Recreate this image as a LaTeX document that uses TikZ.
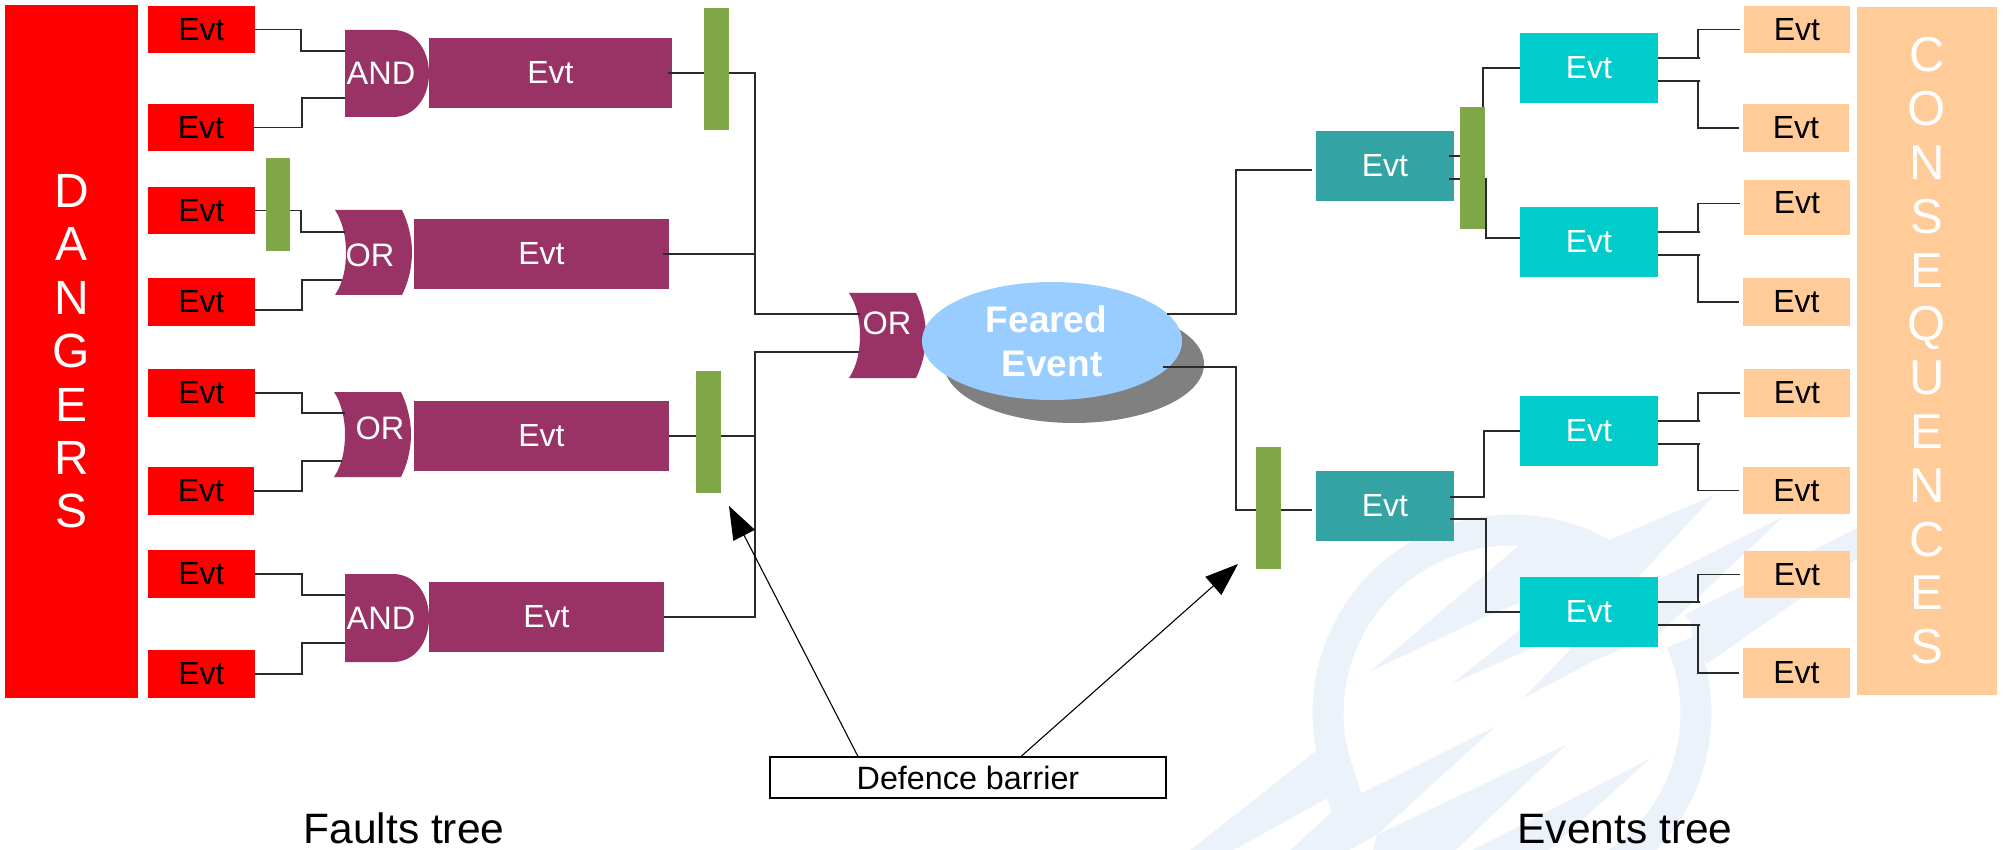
\documentclass[tikz,border=0pt]{standalone}
\usepackage{fontspec}
\setmainfont{Liberation Sans}
\usetikzlibrary{arrows.meta,calc,shapes.geometric}
\definecolor{cRed}{HTML}{FF0000}
\definecolor{cPurple}{HTML}{993366}
\definecolor{cGreen}{HTML}{7FA647}
\definecolor{cTeal}{HTML}{33A3A3}
\definecolor{cCyan}{HTML}{00CCCC}
\definecolor{cOrange}{HTML}{FFCC99}
\definecolor{cSky}{HTML}{99CCFF}
\definecolor{cShadow}{HTML}{808080}
\definecolor{cMark}{HTML}{EBF2FA}
\definecolor{cLine}{HTML}{2A2A2A}
\newcommand{\bx}[7]{%
  \pgfmathsetmacro\bcx{(#3+#5)/2}\pgfmathsetmacro\bcy{(#4+#6)/2}%
  \pgfmathsetmacro\bbw{#5-#3}\pgfmathsetmacro\bbh{#6-#4}%
  \node[#1,minimum width=\bbw pt,minimum height=\bbh pt] (#2) at (\bcx,\bcy) {#7};}
\newcommand{\orshape}[2]{\fill[cPurple,shift={(#1,#2)}] (0,0) -- (67,0) .. controls (73,12) and (77,28) .. (77,42) .. controls (77,58) and (73,73) .. (67,85) -- (0,85) .. controls (8,73) and (11,58) .. (11,42) .. controls (11,28) and (8,12) .. (0,0) -- cycle;}
\newcommand{\andshape}[3]{\fill[cPurple,shift={(#1,#2)}] (0,0) -- (48,0) .. controls (70,0) and (84,20) .. (84,#3/2) .. controls (84,#3-20) and (70,#3) .. (48,#3) -- (0,#3) -- cycle;}
\newcommand{\fork}[3]{%
  \draw[conn] ($(#1.east)+(0,-10)$) -- ++(42,0) -- ++(-2,0) |- #2;
  \draw[conn] ($(#1.east)+(0,13)$) -- ++(42,0) -- ++(-2,0) |- #3;}
\tikzset{
  boxbase/.style={inner sep=0pt,outer sep=0pt,font=\fontsize{32}{36}\selectfont},
  redbox/.style={boxbase,fill=cRed,text=black},
  purplebox/.style={boxbase,fill=cPurple,text=white},
  tealbox/.style={boxbase,fill=cTeal,text=white},
  cyanbox/.style={boxbase,fill=cCyan,text=white},
  orangebox/.style={boxbase,fill=cOrange,text=black},
  barrier/.style={inner sep=0pt,outer sep=0pt,fill=cGreen},
  gatetext/.style={inner sep=0pt,text=white,font=\fontsize{32.5}{36}\selectfont},
  bigcol/.style={inner sep=0pt,outer sep=0pt,text=white,align=center},
  conn/.style={draw=cLine,line width=1.1pt},
  pointer/.style={draw=black,line width=1.1pt,-{Triangle[length=33pt,width=24pt]}},
  caption/.style={inner sep=0pt,anchor=base,text=black,font=\fontsize{42.5}{48}\selectfont},
}
\begin{document}
\begin{tikzpicture}[x=1pt,y=-1pt]
\useasboundingbox (0,0) rectangle (2003,850);
\fill[white] (0,0) rectangle (2003,850);
% pale watermark
\begin{scope}
\clip (0,0) rectangle (2003,850);
\draw[cMark,line width=31pt,line cap=butt] plot[domain=61:192,samples=50] ({1512+184*cos(\x)},{713-183*sin(\x)});
\draw[cMark,line width=31pt,line cap=butt] plot[domain=-75:23,samples=40] ({1512+184*cos(\x)},{713-183*sin(\x)});
\begin{scope}[shift={(1320,490)},x=0.3444pt,y=-0.3333pt]
\fill[cMark] (145,545) -- (580,165) -- (840,150) -- (750,260) -- (600,330) -- (470,385) -- cycle;
\fill[cMark] (385,580) -- (580,420) -- (750,260) -- (840,150) -- (1145,15) -- (925,260) -- (760,400) -- (581,490) -- cycle;
\fill[cMark] (590,625) -- (730,475) -- (925,260) -- (980,270) -- (1345,80) -- (1110,310) -- (985,430) -- (800,510) -- cycle;
\fill[cMark] (1060,375) -- (1568,110) -- (1568,200) -- (1125,520) -- (1090,480) -- (1075,395) -- cycle;
\end{scope}
\begin{scope}[shift={(1170,690)},x=0.3444pt,y=-0.3333pt]
\fill[cMark] (415,190) -- (500,130) -- (555,310) -- (455,325) -- (185,480) -- (60,480) -- cycle;
\fill[cMark] (555,310) -- (945,110) -- (600,435) -- (520,480) -- (350,480) -- (470,365) -- (455,325) -- cycle;
\fill[cMark] (590,480) -- (600,435) -- (1150,165) -- (830,480) -- cycle;
\fill[cMark] (880,480) -- (1395,205) -- (1100,480) -- cycle;
\end{scope}
\end{scope}
% big columns
\bx{bigcol,fill=cRed,font=\fontsize{48}{53.4}\selectfont}{dangers}{5}{5}{138}{698}{D\\A\\N\\G\\E\\R\\S}
\bx{bigcol,fill=cOrange,font=\fontsize{49}{53.8}\selectfont}{conseq}{1857}{7}{1997}{695}{C\\O\\N\\S\\E\\Q\\U\\E\\N\\C\\E\\S}
% left events
\bx{redbox}{e1}{148}{6}{255}{53}{Evt}
\bx{redbox}{e2}{148}{104}{254}{151}{Evt}
\bx{redbox}{e3}{148}{187}{255}{234}{Evt}
\bx{redbox}{e4}{148}{278}{255}{326}{Evt}
\bx{redbox}{e5}{148}{369}{255}{417}{Evt}
\bx{redbox}{e6}{148}{467}{254}{515}{Evt}
\bx{redbox}{e7}{148}{550}{255}{598}{Evt}
\bx{redbox}{e8}{148}{650}{255}{698}{Evt}
% gates
\andshape{345}{30}{87}
\orshape{335}{210}
\orshape{334}{392}
\andshape{345}{574}{88}
\orshape{849}{293}
\node[gatetext] (and1) at (381,73) {AND};
\node[gatetext] (or1) at (370,255) {OR};
\node[gatetext] (or2) at (380,428) {OR};
\node[gatetext] (and2) at (381,618) {AND};
\node[gatetext] (orm) at (887,323) {OR};
\coordinate (a1a) at (345,51); \coordinate (a1b) at (345,98);
\coordinate (o1a) at (345,232); \coordinate (o1b) at (342,280);
\coordinate (o2a) at (345,413); \coordinate (o2b) at (342,461);
\coordinate (a2a) at (345,595); \coordinate (a2b) at (345,643);
\coordinate (mora) at (860,314); \coordinate (morb) at (859,352);
\coordinate (busu) at (755,314); \coordinate (busl) at (755,352);
% purple events
\bx{purplebox}{p1}{429}{38}{672}{108}{Evt}
\bx{purplebox}{p2}{414}{219}{669}{289}{Evt}
\bx{purplebox}{p3}{414}{401}{669}{471}{Evt}
\bx{purplebox}{p4}{429}{582}{664}{652}{Evt}
% feared event
\fill[cShadow] (1074,364) ellipse [x radius=130pt,y radius=59pt];
\node[ellipse,inner sep=0pt,outer sep=0pt,fill=cSky,minimum width=260pt,minimum height=118pt,text=white,align=center,font=\fontsize{37}{44}\selectfont\bfseries] (fe) at (1052,341) {Feared\kern11pt\\Event};
\coordinate (feu) at (1167,314); \coordinate (fel) at (1163,367);
% right events
\bx{tealbox}{t1}{1316}{131}{1454}{201}{Evt}
\bx{tealbox}{t2}{1316}{471}{1454}{541}{Evt}
\coordinate (t1in) at (1312,170); \coordinate (t2in) at (1312,510);
\bx{cyanbox}{c1}{1520}{33}{1658}{103}{Evt}
\bx{cyanbox}{c2}{1520}{207}{1658}{277}{Evt}
\bx{cyanbox}{c3}{1520}{396}{1658}{466}{Evt}
\bx{cyanbox}{c4}{1520}{577}{1658}{647}{Evt}
\bx{orangebox}{q1}{1744}{6}{1850}{53}{Evt}
\bx{orangebox}{q2}{1743}{104}{1849}{152}{Evt}
\bx{orangebox}{q3}{1744}{180}{1850}{235}{\raisebox{10pt}{Evt}}
\bx{orangebox}{q4}{1743}{278}{1850}{326}{Evt}
\bx{orangebox}{q5}{1744}{369}{1850}{417}{Evt}
\bx{orangebox}{q6}{1743}{467}{1850}{514}{Evt}
\bx{orangebox}{q7}{1744}{551}{1850}{598}{Evt}
\bx{orangebox}{q8}{1743}{648}{1850}{698}{Evt}
% connectors, left tree
\draw[conn] (e1.east) -- ++(46,0) |- (a1a);
\draw[conn] (e2.east) -- ++(48,0) |- (a1b);
\draw[conn] (e3.east) -- ++(46,0) |- (o1a);
\draw[conn] ($(e4.east)+(0,8)$) -- ++(47,0) |- (o1b);
\draw[conn] (e5.east) -- ++(47,0) |- (o2a);
\draw[conn] (e6.east) -- ++(48,0) |- (o2b);
\draw[conn] (e7.east) -- ++(47,0) |- (a2a);
\draw[conn] (e8.east) -- ++(47,0) |- (a2b);
\draw[conn] ($(p1.east)+(-4,0)$) -| (busu) -- (mora);
\draw[conn] ($(p2.east)+(-6,0)$) -- (p2.east -| busu);
\draw[conn] (p3.east) -- (p3.east -| busl);
\draw[conn] (p4.east) -| (busl) -- (morb);
% connectors, right tree
\draw[conn] (feu) -| (t1in -| 1236,0) -- (t1in);
\draw[conn] (fel) -| (t2in -| 1236,0) -- (t2in);
\draw[conn] ($(t1.east)+(-5,-10)$) -| ($(c1.west)+(-37,0)$) -- (c1.west);
\draw[conn] ($(t1.east)+(-5,13)$) -| ($(c2.west)+(-34,-4)$) -- ($(c2.west)+(0,-4)$);
\draw[conn] ($(t2.east)+(-4,-9)$) -| ($(c3.west)+(-36,0)$) -- (c3.west);
\draw[conn] ($(t2.east)+(-4,13)$) -| ($(c4.west)+(-34,0)$) -- (c4.west);
\fork{c1}{([xshift=-4pt]q1.west)}{([xshift=-4pt]q2.west)}
\fork{c2}{([xshift=-4pt,yshift=4pt]q3.west)}{([xshift=-4pt]q4.west)}
\fork{c3}{([xshift=-4pt]q5.west)}{([xshift=-4pt]q6.west)}
\fork{c4}{([xshift=-4pt]q7.west)}{([xshift=-4pt]q8.west)}
% barriers
\bx{barrier}{b1}{704}{8}{729}{130}{}
\bx{barrier}{b2}{266}{158}{290}{251}{}
\bx{barrier}{b3}{696}{371}{721}{493}{}
\bx{barrier}{b4}{1256}{447}{1281}{569}{}
\bx{barrier}{b5}{1460}{107}{1485}{229}{}
% defence barrier label and pointers
\bx{draw=black,line width=1.1pt,fill=white,inner sep=0pt,font=\fontsize{32.3}{36}\selectfont}{def}{770}{757}{1166}{798}{Defence barrier}
\coordinate (tipa) at (729,506);
\coordinate (tipb) at (1238,564);
\draw[pointer] ($(def.north)+(-110,0)$) -- (tipa);
\draw[pointer] ($(def.north)+(53,0)$) -- (tipb);
% captions
\node[caption] (ft) at (404,843) {Faults tree};
\node[caption] (et) at (1625,843) {Events tree};
\end{tikzpicture}
\end{document}
